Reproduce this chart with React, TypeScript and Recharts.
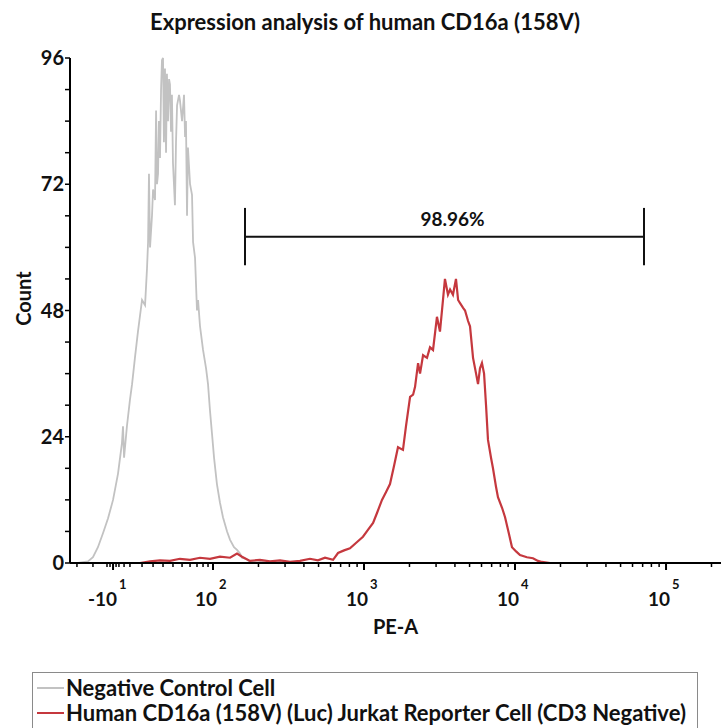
import { LineChart, Line, XAxis, YAxis, ReferenceLine, Label } from 'recharts'

// x positions are in display decades (2 = 10^2, 3 = 10^3 ...)
const negX = [
  1.106, 1.172, 1.205, 1.238, 1.272, 1.305, 1.338, 1.371, 1.397, 1.404, 1.411, 1.43, 1.45, 1.464, 1.483,
  1.503, 1.53, 1.55, 1.563, 1.57, 1.576, 1.583, 1.596, 1.603, 1.616, 1.623, 1.629, 1.636, 1.642, 1.649,
  1.656, 1.662, 1.669, 1.675, 1.682, 1.689, 1.695, 1.702, 1.709, 1.715, 1.722, 1.728, 1.735, 1.748, 1.755,
  1.762, 1.775, 1.781, 1.795, 1.808, 1.815, 1.821, 1.828, 1.834, 1.848, 1.861, 1.868, 1.881, 1.894, 1.901,
  1.914, 1.934, 1.954, 1.967, 1.98, 1.993, 2.007, 2.026, 2.046, 2.066, 2.093, 2.113, 2.139, 2.159, 2.179,
  2.192, 2.219, 2.245, 2.298, 2.344, 2.444, 2.576,
]
const negCount = [
  0, 0.3, 1.1, 3, 5.7, 8.5, 12, 17, 22.8, 26, 20, 26, 31, 34, 39,
  44, 50, 49, 56, 61, 74, 60, 66, 71, 69, 86, 72, 74, 84, 77,
  90, 95.6, 96, 80, 94, 78, 93, 84, 92, 91, 82, 89, 76, 68, 80,
  87, 89, 88, 84, 89, 81, 84, 66, 79, 72, 70, 61, 58, 48, 50,
  45, 40.5, 37, 34, 29, 24.7, 20, 15, 11.5, 8.7, 6, 4.4, 3, 2.5, 1.8,
  1, 0.8, 0.2, 0.5, 0.1, 0.2, 0,
]

const posX = [
  1.517, 1.583, 1.649, 1.715, 1.781, 1.848, 1.914, 1.98, 2.046, 2.113, 2.159, 2.192, 2.245, 2.311, 2.377,
  2.444, 2.51, 2.576, 2.642, 2.695, 2.742, 2.795, 2.828, 2.868, 2.907, 2.954, 2.993, 3.026, 3.06, 3.086,
  3.119, 3.146, 3.172, 3.199, 3.225, 3.258, 3.278, 3.305, 3.325, 3.338, 3.358, 3.371, 3.391, 3.417, 3.437,
  3.457, 3.483, 3.503, 3.523, 3.536, 3.556, 3.57, 3.589, 3.609, 3.623, 3.636, 3.656, 3.669, 3.689, 3.702,
  3.722, 3.742, 3.755, 3.768, 3.781, 3.795, 3.808, 3.821, 3.841, 3.854, 3.874, 3.887, 3.914, 3.934, 3.96,
  3.98, 4.007, 4.033, 4.079, 4.119, 4.152, 4.179, 4.232,
]
const posCount = [
  0, 0.3, 0.5, 0.4, 0.8, 0.6, 1.0, 0.8, 1.2, 1.0, 1.8, 1.2, 0.4, 0.6, 0.3,
  0.5, 0.2, 0.4, 0.8, 0.5, 1.0, 0.6, 1.9, 2.4, 2.8, 4.0, 5, 6.3, 7.6, 9.5,
  12, 13.5, 15, 18.5, 22, 21.5, 26, 31.6, 32, 33.5, 38, 36, 39.5, 39, 41,
  40.5, 46.8, 44, 50, 54, 51, 52, 51, 54, 50, 49.4, 48.5, 48, 46, 45,
  39, 36, 34, 37, 38, 36, 30, 23.4, 20, 18, 14.5, 12.5, 10.5, 8.7, 5.5,
  3, 2.2, 1.5, 1.1, 0.9, 0.4, 0.2, 0,
]

const majorTicks = [1.338, 2, 3, 4, 5]
const tickBase = ['-10', '10', '10', '10', '10']
const tickExp = ['1', '2', '3', '4', '5']
const linearMinor = [1.099, 1.205, 1.298, 1.318, 1.358, 1.377, 1.411, 1.45, 1.53, 1.603, 1.669, 1.735, 1.795, 1.848, 1.894, 1.934, 1.967]
const logMinor: number[] = []
for (const d of [2, 3, 4, 5]) {
  for (let k = 2; k <= 9; k++) {
    const v = d + Math.log10(k)
    if (v < 5.364) logMinor.push(v)
  }
}
const xTicks = [...majorTicks, ...linearMinor, ...logMinor].sort((a, b) => a - b)

const yTicks = [0, 6, 12, 18, 24, 30, 36, 42, 48, 54, 60, 66, 72, 78, 84, 90, 96]
const yLabelled = [0, 24, 48, 72, 96]

const gateFrom = 2.212
const gateTo = 4.854
const gateY = 62
const gateTop = 67.5
const gateBottom = 56.6
const gateText = '98.96%'

const seriesNames = ['Negative Control Cell', 'Human CD16a (158V) (Luc) Jurkat Reporter Cell (CD3 Negative)']
const seriesColors = ['#c2c2c2', '#c5383e']

const FONT = 'Lato, "Open Sans", sans-serif'

const negData = negX.map((x, i) => ({ x, count: negCount[i] }))
const posData = posX.map((x, i) => ({ x, count: posCount[i] }))

function XTick({ x, y, payload }: any) {
  const i = majorTicks.indexOf(payload.value)
  if (i < 0) {
    return <line x1={x} y1={y} x2={x} y2={y + 4} stroke="#000" strokeWidth={1.5} />
  }
  return (
    <g>
      <line x1={x} y1={y} x2={x} y2={y + 7} stroke="#000" strokeWidth={2} />
      <text x={x + 4} y={y + 43} textAnchor="end" fontFamily={FONT} fontWeight={700} fontSize={19} fill="#111">
        {tickBase[i]}
      </text>
      <text x={x + 6} y={y + 26} textAnchor="start" fontFamily={FONT} fontWeight={700} fontSize={13} fill="#111">
        {tickExp[i]}
      </text>
    </g>
  )
}

function YTick({ x, y, payload }: any) {
  if (!yLabelled.includes(payload.value)) return <g />
  return (
    <text x={x} y={y + 7} textAnchor="end" fontFamily={FONT} fontWeight={700} fontSize={20} fill="#111">
      {payload.value}
    </text>
  )
}

export default function App() {
  return (
    <div style={{ position: 'absolute', left: 0, top: 0, width: 721, height: 728, overflow: 'hidden', background: '#fff' }}>
      <div
        style={{
          position: 'absolute', left: 0, top: 8, width: 730, textAlign: 'center',
          fontFamily: FONT, fontWeight: 700, fontSize: 22, color: '#111',
        }}
      >
        Expression analysis of human CD16a (158V)
      </div>
      <LineChart width={721} height={728} data={negData} margin={{ top: 58, right: 0, left: 0, bottom: 109 }}>
        <XAxis
          type="number"
          dataKey="x"
          domain={[1.053, 5.364]}
          ticks={xTicks}
          interval={0}
          tickLine={false}
          tickSize={0}
          tickMargin={0}
          tick={<XTick />}
          axisLine={{ stroke: '#000', strokeWidth: 2 }}
          height={56}
          allowDataOverflow
        >
          <Label
            position="bottom"
            offset={0}
            content={({ viewBox }: any) => (
              <text
                x={viewBox.x + viewBox.width / 2}
                y={viewBox.y + viewBox.height + 15}
                textAnchor="middle"
                fontFamily={FONT}
                fontWeight={700}
                fontSize={20}
                fill="#111"
              >
                PE-A
              </text>
            )}
          />
        </XAxis>
        <YAxis
          type="number"
          domain={[0, 96]}
          ticks={yTicks}
          interval={0}
          width={70}
          tickSize={5}
          tickMargin={1}
          tickLine={{ stroke: '#000', strokeWidth: 1.5 }}
          tick={<YTick />}
          axisLine={{ stroke: '#000', strokeWidth: 2 }}
        >
          <Label
            position="left"
            content={({ viewBox }: any) => (
              <text
                x={23}
                y={viewBox.y + viewBox.height / 2 - 12}
                transform={`rotate(-90, 23, ${viewBox.y + viewBox.height / 2 - 12})`}
                textAnchor="middle"
                dominantBaseline="central"
                fontFamily={FONT}
                fontWeight={700}
                fontSize={20}
                fill="#111"
              >
                Count
              </text>
            )}
          />
        </YAxis>
        <Line
          data={negData}
          dataKey="count"
          type="linear"
          stroke={seriesColors[0]}
          strokeWidth={1.8}
          dot={false}
          isAnimationActive={false}
        />
        <Line
          data={posData}
          dataKey="count"
          type="linear"
          stroke={seriesColors[1]}
          strokeWidth={2.2}
          dot={false}
          isAnimationActive={false}
        />
        <ReferenceLine
          segment={[{ x: gateFrom, y: gateY }, { x: gateTo, y: gateY }]}
          stroke="#111"
          strokeWidth={2}
          ifOverflow="visible"
          label={{ value: gateText, position: 'top', offset: 11, dx: 8, fill: '#111', fontSize: 19, fontWeight: 700, fontFamily: FONT }}
        />
        <ReferenceLine
          segment={[{ x: gateFrom, y: gateBottom }, { x: gateFrom, y: gateTop }]}
          stroke="#111"
          strokeWidth={2}
          ifOverflow="visible"
        />
        <ReferenceLine
          segment={[{ x: gateTo, y: gateBottom }, { x: gateTo, y: gateTop }]}
          stroke="#111"
          strokeWidth={2}
          ifOverflow="visible"
        />
      </LineChart>
      <div
        style={{
          position: 'absolute', left: 32, top: 672, width: 666, height: 70,
          border: '1px solid #8a8a8a', boxSizing: 'border-box', paddingTop: 2,
          fontFamily: FONT, fontWeight: 700, fontSize: 22, color: '#111',
        }}
      >
        {seriesNames.map((name, i) => (
          <div key={name} style={{ display: 'flex', alignItems: 'center', height: 25, whiteSpace: 'nowrap' }}>
            <span style={{ display: 'inline-block', width: 27, height: 2, background: seriesColors[i], marginLeft: 4, marginRight: 2 }} />
            <span>{name}</span>
          </div>
        ))}
      </div>
    </div>
  )
}
